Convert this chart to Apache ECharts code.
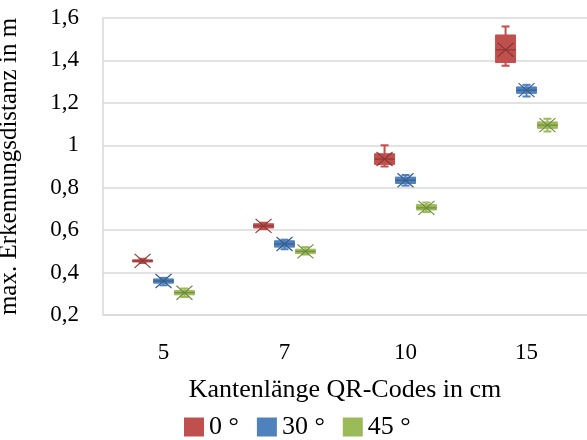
<!DOCTYPE html>
<html>
<head>
<meta charset="utf-8">
<script src="https://cdn.jsdelivr.net/npm/echarts@6/dist/echarts.min.js"></script>
<style>
  html, body { margin: 0; padding: 0; background: #fff; }
  #chart { width: 587px; height: 440px; }
</style>
</head>
<body>
<div id="chart"></div>
<script>
// categories (edge length of QR code in cm)
var categories = ['5', '7', '10', '15'];
var seriesNames = ['0 °', '30 °', '45 °'];
var colors = ['#C0504D', '#4F81BD', '#9BBB59'];
var darkColors = ['#8C3836', '#385D8A', '#71893F'];

// [min, q1, median, q3, max] per category
var angle0 = [
  [0.445, 0.45, 0.455, 0.46, 0.465],
  [0.605, 0.61, 0.62, 0.63, 0.635],
  [0.90, 0.91, 0.935, 0.96, 1.00],
  [1.375, 1.39, 1.45, 1.52, 1.56]
];
var angle30 = [
  [0.34, 0.35, 0.36, 0.37, 0.375],
  [0.51, 0.52, 0.535, 0.55, 0.555],
  [0.81, 0.82, 0.835, 0.85, 0.86],
  [1.23, 1.245, 1.26, 1.275, 1.285]
];
var angle45 = [
  [0.285, 0.295, 0.305, 0.315, 0.325],
  [0.485, 0.49, 0.50, 0.51, 0.52],
  [0.685, 0.695, 0.705, 0.72, 0.73],
  [1.065, 1.08, 1.095, 1.11, 1.125]
];
var yTicks = { min: 0.2, max: 1.6, interval: 0.2 };

var allData = [angle0, angle30, angle45];
var font = 'Liberation Serif';

function renderBox(params, api) {
  var s = params.seriesIndex;
  var cat = api.value(0);
  var bw = api.size([1, 0])[0];
  var off = (s - 1) * bw * 0.173;
  var half = 10;
  var pMin = api.coord([cat, api.value(1)]);
  var pQ1 = api.coord([cat, api.value(2)]);
  var pMed = api.coord([cat, api.value(3)]);
  var pQ3 = api.coord([cat, api.value(4)]);
  var pMax = api.coord([cat, api.value(5)]);
  var cx = pMin[0] + off;
  var lineStyle = { stroke: darkColors[s], lineWidth: 1.2 };
  var children = [
    { type: 'line', shape: { x1: cx, y1: pMax[1], x2: cx, y2: pMin[1] }, style: { stroke: colors[s], lineWidth: 2 } },
    { type: 'line', shape: { x1: cx - 4, y1: pMax[1], x2: cx + 4, y2: pMax[1] }, style: { stroke: colors[s], lineWidth: 2 } },
    { type: 'line', shape: { x1: cx - 4, y1: pMin[1], x2: cx + 4, y2: pMin[1] }, style: { stroke: colors[s], lineWidth: 2 } },
    { type: 'rect', shape: { x: cx - half, y: pQ3[1], width: half * 2, height: pQ1[1] - pQ3[1] },
      style: { fill: colors[s], stroke: colors[s], lineWidth: 1 } },
    { type: 'line', shape: { x1: cx - half, y1: pMed[1], x2: cx + half, y2: pMed[1] }, style: lineStyle },
    { type: 'line', shape: { x1: cx - 8, y1: pMed[1] - 7, x2: cx + 8, y2: pMed[1] + 7 }, style: lineStyle },
    { type: 'line', shape: { x1: cx - 8, y1: pMed[1] + 7, x2: cx + 8, y2: pMed[1] - 7 }, style: lineStyle }
  ];
  return { type: 'group', children: children };
}

var series = allData.map(function (arr, s) {
  return {
    name: seriesNames[s],
    type: 'custom',
    renderItem: renderBox,
    itemStyle: { color: colors[s] },
    encode: { x: 0, y: [1, 2, 3, 4, 5] },
    data: arr.map(function (d, i) { return [i].concat(d); })
  };
});

var chart = echarts.init(document.getElementById('chart'));
chart.setOption({
  animation: false,
  textStyle: { fontFamily: font },
  grid: { left: 103, right: 0, top: 18, bottom: 125, containLabel: false, outerBoundsMode: 'none' },
  legend: {
    data: seriesNames,
    top: 409,
    left: 179,
    icon: 'rect',
    itemWidth: 20,
    itemHeight: 19,
    itemGap: 18,
    textStyle: { fontFamily: font, fontSize: 26, color: '#000' }
  },
  xAxis: {
    type: 'category',
    data: categories,
    name: 'Kantenlänge QR-Codes in cm',
    nameLocation: 'middle',
    nameGap: 62,
    nameTextStyle: { fontFamily: font, fontSize: 26, color: '#000' },
    axisTick: { show: false },
    axisLine: { lineStyle: { color: '#d9d9d9', width: 1.5 } },
    axisLabel: { margin: 26, fontFamily: font, fontSize: 23, color: '#000' }
  },
  yAxis: {
    type: 'value',
    min: yTicks.min,
    max: yTicks.max,
    interval: yTicks.interval,
    name: 'max. Erkennungsdistanz in m',
    nameLocation: 'middle',
    nameGap: 81,
    nameTextStyle: { fontFamily: font, fontSize: 25, color: '#000' },
    axisLine: { show: true, lineStyle: { color: '#d9d9d9', width: 1.5 } },
    axisTick: { show: false },
    splitLine: { lineStyle: { color: '#d9d9d9', width: 1.5 } },
    axisLabel: {
      margin: 24,
      fontFamily: font,
      fontSize: 23,
      color: '#000',
      formatter: function (v) { return (Math.round(v * 10) / 10).toString().replace('.', ','); }
    }
  },
  series: series
});
</script>
</body>
</html>
